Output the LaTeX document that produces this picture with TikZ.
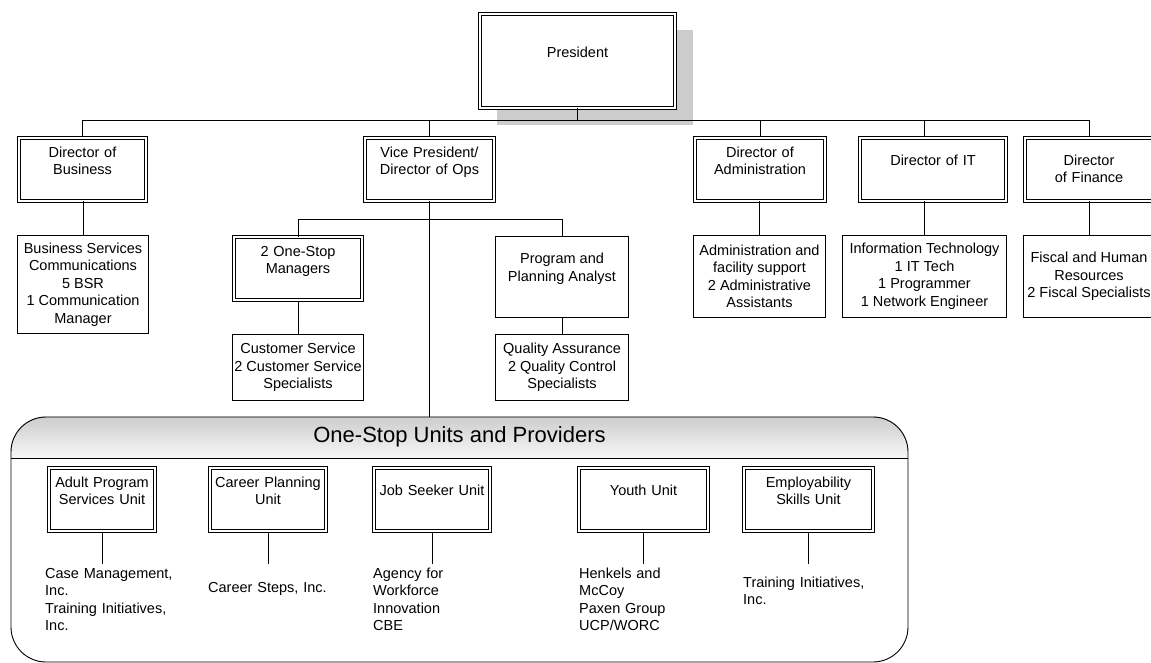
\documentclass[tikz,border=0pt]{standalone}
\usepackage{fontspec}
\setmainfont{Liberation Sans}
\usetikzlibrary{
    backgrounds
}

\begin{document}
\begin{tikzpicture}[
    x=1pt, y=-1pt,
    font=\fontsize{14.5}{17.5}\selectfont,
    dbox/.style={
        rectangle,
        draw=black,
        line width=1pt,
        double=white,
        double distance=2pt,
        fill=white,
        align=center,
        inner sep=4pt,
        minimum width=#1,
        text width=#1-8pt,
        text height=15.2pt,
        text depth=39.8pt
    },
    dboxlow/.style={
        dbox=#1,
        text height=23.2pt,
        text depth=31.8pt
    },
    sbox/.style={
        rectangle,
        draw=black,
        line width=0.9pt,
        fill=white,
        align=center,
        inner sep=2pt
    },
    prov/.style={
        anchor=north west,
        align=left,
        inner sep=0pt,
        text width=150pt,
        text height=10.5pt
    },
    link/.style={
        draw=black,
        line width=0.9pt
    },
    headtext/.style={
        font=\fontsize{22}{26}\selectfont
    }
]
\useasboundingbox (0,0) rectangle (1151,663);

% =========================================================
% President and directors
% =========================================================
\node[dbox=195pt, text height=39.2pt, text depth=46.8pt] (pres) at (577.5,61) {President};

\node[dbox=127pt] (dirbus) at (82.5,169.5) {Director of\\Business};
\node[dbox=129pt] (vp) at (429.5,169.5) {Vice President/\\Director of Ops};
\node[dbox=130pt] (diradm) at (760,169.5) {Director of\\Administration};
\node[dboxlow=146pt] (dirit) at (933,169.5) {Director of IT};
\node[dboxlow=128pt] (dirfin) at (1089,169.5) {Director\\of Finance};

% =========================================================
% Staff boxes
% =========================================================
\node[sbox, minimum width=131pt, minimum height=98pt] (bussvc) at (83,284.5)
{Business Services\\Communications\\5 BSR\\1 Communication\\Manager};

\node[dbox=128pt] (osm) at (298,268.5) {2 One-Stop\\Managers};
\node[sbox, minimum width=131pt, minimum height=66pt] (custsvc) at (298,367.5)
{Customer Service\\2 Customer Service\\Specialists};

\node[sbox, minimum width=133pt, minimum height=81pt, text depth=19.5pt] (ppa) at (562,277)
{Program and\\Planning Analyst};
\node[sbox, minimum width=133pt, minimum height=66pt] (qa) at (562,367.5)
{Quality Assurance\\2 Quality Control\\Specialists};

\node[sbox, minimum width=132pt, minimum height=82pt] (admsup) at (759.5,276.5)
{Administration and\\facility support\\2 Administrative\\Assistants};
\node[sbox, minimum width=164pt, minimum height=82pt] (itsup) at (924.5,276.5)
{Information Technology\\1 IT Tech\\1 Programmer\\1 Network Engineer};
\node[sbox, minimum width=131pt, minimum height=82pt] (finsup) at (1089,276.5)
{Fiscal and Human\\Resources\\2 Fiscal Specialists};

% =========================================================
% One-Stop units
% =========================================================
\node[draw, line width=0.9pt, rounded corners=35pt, minimum width=897pt, minimum height=245pt] (units) at (459.5,539.5) {};
\coordinate (hdr) at (0,458);
\node[headtext] (unitstitle) at (459.5,437) {One-Stop Units and Providers};

\node[dbox=106pt] (apsu) at (102,499.5) {Adult Program\\Services Unit};
\node[dbox=116pt] (cpu) at (268,499.5) {Career Planning\\Unit};
\node[dboxlow=116pt] (jsu) at (432,499.5) {Job Seeker Unit};
\node[dboxlow=129pt] (yu) at (643.5,499.5) {Youth Unit};
\node[dbox=129pt] (esu) at (808.5,499.5) {Employability\\Skills Unit};

\node[prov] (apprv) at (45,567.7) {Case Management,\\Inc.\\Training Initiatives,\\Inc.};
\node[prov] (cpprv) at (208,581.7) {Career Steps, Inc.};
\node[prov] (jsprv) at (373,567.7) {Agency for\\Workforce\\Innovation\\CBE};
\node[prov] (yprv) at (579,567.7) {Henkels and\\McCoy\\Paxen Group\\UCP/WORC};
\node[prov] (esprv) at (743,576.7) {Training Initiatives,\\Inc.};

% =========================================================
% Background: shadow and header shading
% =========================================================
\begin{scope}[on background layer]
    \fill[black!20] ([shift={(17pt,-17pt)}]pres.north west) rectangle ([shift={(17pt,-17pt)}]pres.south east);
    \clip[rounded corners=35pt] (units.north west) rectangle (units.south east);
    \shade[top color=black!20, bottom color=black!3] (units.north west) rectangle (units.east |- hdr);
\end{scope}
\draw[link] (units.west |- hdr) -- (units.east |- hdr);

% =========================================================
% Connectors
% =========================================================
\coordinate (topbus) at (0,120);
\coordinate (vpbus) at (0,219);
\coordinate (provtop) at (0,564);

\draw[link] (pres.south) -- (pres.south |- topbus);
\draw[link] (dirbus.north |- topbus) -- (dirfin.north |- topbus);
\foreach \d in {dirbus,vp,diradm,dirfin}
    \draw[link] (\d.north |- topbus) -- (\d.north);
\draw[link] (itsup.north |- topbus) -- (itsup.north |- dirit.north);

\draw[link] (bussvc.north) -- (bussvc.north |- dirbus.south);
\draw[link] (admsup.north) -- (admsup.north |- diradm.south);
\draw[link] (itsup.north) -- (itsup.north |- dirit.south);
\draw[link] (finsup.north) -- (finsup.north |- dirfin.south);

\draw[link] (vp.south) -- (vp.south |- units.north);
\draw[link] (osm.north |- vpbus) -- (ppa.north |- vpbus);
\draw[link] (osm.north |- vpbus) -- (osm.north);
\draw[link] (ppa.north |- vpbus) -- (ppa.north);
\draw[link] (osm.south) -- (custsvc.north);
\draw[link] (ppa.south) -- (qa.north);

\foreach \u in {apsu,cpu,jsu,yu,esu}
    \draw[link] (\u.south) -- (\u.south |- provtop);

\end{tikzpicture}
\end{document}
